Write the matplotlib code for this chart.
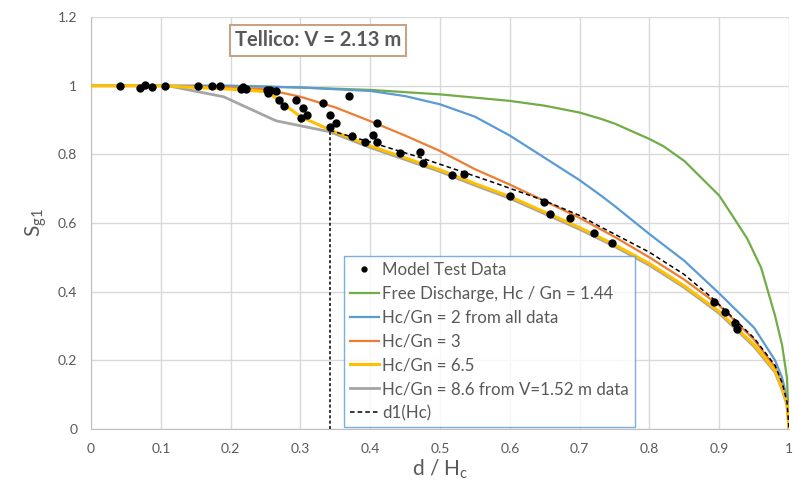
import matplotlib.pyplot as plt
import numpy as np

plt.rcParams['font.family'] = ['Lato', 'DejaVu Sans']
plt.rcParams['mathtext.default'] = 'regular'

# Model test data points (d/Hc, Sg1)
test_x = [0.042, 0.070, 0.078, 0.088, 0.106, 0.153, 0.174, 0.185, 0.215, 0.218, 0.222,
          0.252, 0.253, 0.256, 0.265, 0.269, 0.276, 0.293, 0.304, 0.301, 0.310, 0.332,
          0.369, 0.342, 0.351, 0.342, 0.409, 0.374, 0.392, 0.404, 0.409, 0.442, 0.472,
          0.475, 0.517, 0.534, 0.600, 0.649, 0.657, 0.686, 0.720, 0.747, 0.893, 0.908,
          0.923, 0.926]
test_y = [0.998, 0.994, 1.001, 0.996, 0.999, 0.999, 1.000, 0.998, 0.992, 0.996, 0.991,
          0.989, 0.980, 0.988, 0.986, 0.958, 0.942, 0.959, 0.934, 0.906, 0.915, 0.950,
          0.969, 0.916, 0.893, 0.879, 0.892, 0.853, 0.836, 0.857, 0.836, 0.803, 0.806,
          0.776, 0.740, 0.744, 0.680, 0.660, 0.626, 0.614, 0.572, 0.541, 0.371, 0.340,
          0.308, 0.292]

# Free discharge, Hc/Gn = 1.44
free_x = [0, 0.1, 0.2, 0.3, 0.4, 0.5, 0.6, 0.65, 0.7, 0.73, 0.75, 0.8, 0.82, 0.85,
          0.9, 0.92, 0.94, 0.96, 0.98, 0.99, 0.997, 1.0]
free_y = [1, 1, 1, 0.995, 0.988, 0.975, 0.956, 0.942, 0.922, 0.904, 0.89, 0.845, 0.824,
          0.781, 0.68, 0.618, 0.555, 0.47, 0.33, 0.245, 0.15, 0.0]

# Hc/Gn = 2
hc2_x = [0, 0.1, 0.2, 0.3, 0.35, 0.4, 0.45, 0.5, 0.55, 0.6, 0.65, 0.7, 0.73, 0.75,
         0.8, 0.85, 0.9, 0.95, 0.98, 0.99, 0.997, 1.0]
hc2_y = [1, 1, 1, 0.995, 0.99, 0.985, 0.97, 0.946, 0.91, 0.855, 0.79, 0.725, 0.681,
         0.65, 0.568, 0.49, 0.395, 0.295, 0.2, 0.15, 0.09, 0.0]

# Hc/Gn = 3
hc3_x = [0, 0.1, 0.2, 0.25, 0.3, 0.35, 0.4, 0.45, 0.5, 0.55, 0.6, 0.65, 0.7, 0.75,
         0.8, 0.85, 0.9, 0.95, 0.98, 0.99, 0.997, 1.0]
hc3_y = [1, 1, 0.995, 0.99, 0.968, 0.937, 0.897, 0.855, 0.81, 0.757, 0.712, 0.664,
         0.615, 0.56, 0.5, 0.435, 0.36, 0.26, 0.18, 0.13, 0.08, 0.0]

# Hc/Gn = 6.5
hc65_x = [0, 0.1, 0.2, 0.25, 0.255, 0.3, 0.342, 0.4, 0.45, 0.5, 0.55, 0.6, 0.65, 0.7,
          0.75, 0.8, 0.85, 0.9, 0.95, 0.98, 0.99, 0.997, 1.0]
hc65_y = [1, 1, 0.99, 0.983, 0.979, 0.91, 0.872, 0.825, 0.79, 0.755, 0.715, 0.677,
          0.632, 0.587, 0.537, 0.482, 0.417, 0.342, 0.245, 0.17, 0.12, 0.075, 0.0]

# Hc/Gn = 8.6 from V=1.52 m data
hc86_x = [0, 0.11, 0.19, 0.265, 0.342, 0.4, 0.45, 0.5, 0.55, 0.6, 0.65, 0.7,
          0.75, 0.8, 0.85, 0.9, 0.95, 0.98, 0.99, 0.997, 1.0]
hc86_y = [1, 1, 0.968, 0.898, 0.866, 0.82, 0.785, 0.75, 0.71, 0.672, 0.627, 0.582,
          0.532, 0.477, 0.412, 0.337, 0.24, 0.165, 0.115, 0.07, 0.0]

# d1(Hc)
d1_x = [0.342, 0.4, 0.47, 0.534, 0.584, 0.65, 0.7, 0.729, 0.8, 0.85, 0.892, 0.95,
        0.98, 0.99, 0.997, 1.0]
d1_y = [0.870, 0.836, 0.792, 0.748, 0.713, 0.665, 0.622, 0.590, 0.515, 0.45, 0.378,
        0.265, 0.185, 0.135, 0.08, 0.0]

text_c = '#595959'

fig = plt.figure(figsize=(7.93, 4.9), dpi=100)
ax = fig.add_axes([0.1148, 0.1245, 0.8802, 0.8405])

ax.plot(free_x, free_y, color='#70AD47', lw=1.6, label='Free Discharge, Hc / Gn = 1.44', zorder=3)
ax.plot(hc2_x, hc2_y, color='#5B9BD5', lw=1.6, label='Hc/Gn = 2 from all data', zorder=3)
ax.plot(hc86_x, hc86_y, color='#A5A5A5', lw=2.0, label='Hc/Gn = 8.6 from V=1.52 m data', zorder=3)
ax.plot(hc3_x, hc3_y, color='#ED7D31', lw=1.6, label='Hc/Gn = 3', zorder=4)
ax.plot(hc65_x, hc65_y, color='#FFC000', lw=2.2, label='Hc/Gn = 6.5', zorder=4)
ax.plot(d1_x, d1_y, color='black', lw=1.1, ls=(0, (3, 2)), label='d1(Hc)', zorder=5)
ax.plot([d1_x[0], d1_x[0]], [0, d1_y[0]], color='black', lw=1.1, ls=(0, (2, 1.5)), zorder=5)
ax.plot(test_x, test_y, 'o', color='black', ms=5, label='Model Test Data', zorder=6)

ax.set_xlim(0, 1)
ax.set_ylim(0, 1.2)
ax.set_xticks(np.arange(0, 1.01, 0.1))
ax.set_xticklabels(['0', '0.1', '0.2', '0.3', '0.4', '0.5', '0.6', '0.7', '0.8', '0.9', '1'])
ax.set_yticks(np.arange(0, 1.21, 0.2))
ax.set_yticklabels(['0', '0.2', '0.4', '0.6', '0.8', '1', '1.2'])
ax.tick_params(length=0, labelsize=10, colors=text_c, pad=10)
ax.grid(True, color='#D9D9D9', lw=1)
ax.set_axisbelow(True)
for s in ['top', 'right']:
    ax.spines[s].set_visible(False)
for s in ['left', 'bottom']:
    ax.spines[s].set_color('#BFBFBF')

ax.set_xlabel('d / H$_c$', fontsize=15, color=text_c, labelpad=2)
ax.set_ylabel('S$_{g1}$', fontsize=15, color=text_c, labelpad=6)

ax.text(0.325, 1.132, 'Tellico: V = 2.13 m', fontsize=14.5, fontweight='bold', color=text_c,
        ha='center', va='center',
        bbox=dict(boxstyle='square,pad=0.25', fc='white', ec='#C4A484', lw=1.5))

handles, labels = ax.get_legend_handles_labels()
order = ['Model Test Data', 'Free Discharge, Hc / Gn = 1.44', 'Hc/Gn = 2 from all data',
         'Hc/Gn = 3', 'Hc/Gn = 6.5', 'Hc/Gn = 8.6 from V=1.52 m data', 'd1(Hc)']
hmap = dict(zip(labels, handles))
leg = ax.legend([hmap[k] for k in order], order, loc='lower left',
                bbox_to_anchor=(0.3625, 0.005), fontsize=12.2, frameon=True, fancybox=False,
                edgecolor='#5B9BD5', handlelength=1.7, handletextpad=0.2,
                labelspacing=0.46, borderpad=0.35, borderaxespad=0, markerscale=0.7,
                labelcolor=text_c)
leg.get_frame().set_linewidth(1.0)
leg.set_zorder(7)

fig.savefig('out.png', dpi=100)
